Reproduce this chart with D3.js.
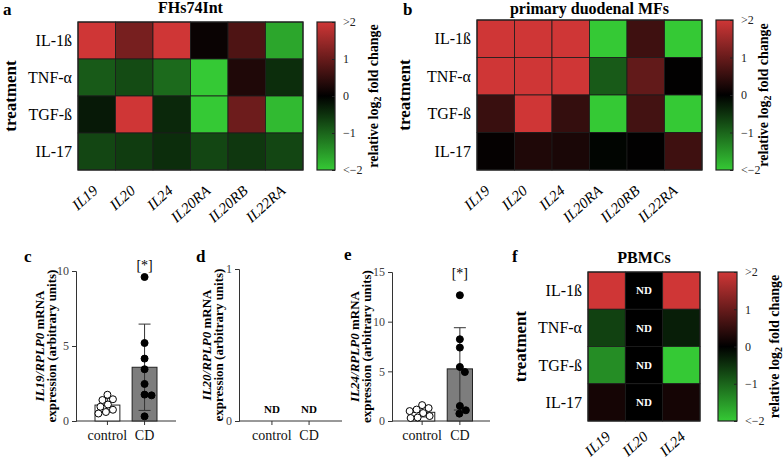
<!DOCTYPE html>
<html>
<head>
<meta charset="utf-8">
<script src="https://cdn.jsdelivr.net/npm/d3@7"></script>
<style>
  body { margin: 0; background: #fff; }
  svg { font-family: "Liberation Serif", "Times New Roman", serif; }
</style>
</head>
<body>
<svg id="fig" width="784" height="461"></svg>
<script>
// ---- data ----
const treatments = ["IL-1ß", "TNF-α", "TGF-ß", "IL-17"];
const genesAB = ["IL19", "IL20", "IL24", "IL20RA", "IL20RB", "IL22RA"];
const genesF = ["IL19", "IL20", "IL24"];

// relative log2 fold change, rows = treatments, cols = genes (null = ND)
const fhsValues = [
  [2, 1.15, 2, 0.1, 0.75, -1.65],
  [-0.9, -0.75, -1.05, -2, 0.3, -0.45],
  [-0.25, 2, -0.4, -2, 1.05, -1.85],
  [-0.7, -0.6, -0.45, -0.7, -0.55, -0.7]
];
const duodenalValues = [
  [2, 2, 2, -2, 0.6, -2],
  [2, 2, 2, -0.9, 0.95, 0.02],
  [0.55, 2, 0.5, -2, 0.65, -2],
  [0.05, 0.3, 0.25, -0.05, 0.02, 0.6]
];
const pbmcValues = [
  [2, null, 2],
  [-0.65, null, -0.3],
  [-1.4, null, -2],
  [0.2, null, 0.2]
];
const cbTicks = [2, 1, 0, -1, -2];
const cbTickLabels = [">2", "1", "0", "−1", "<−2"];

const groups = ["control", "CD"];
const il19Control = [1.75, 1.45, 1.4, 1.1, 0.95, 0.75, 0.6, 0.5];
const il19CD = [9.6, 5.2, 4.16, 3.45, 2.47, 1.76, 1.71, 0.31];
const il24Control = [1.6, 1.3, 1.15, 1.0, 0.8, 0.5, 0.35, 0.3];
const il24CD = [12.66, 8.23, 7.39, 5.44, 4.93, 1.51, 1.08, 0.74];

// ---- drawing ----
const svg = d3.select("#fig");
const red = "#cf3636", green = "#35c935";
const color = d3.scaleLinear().domain([-2, 0, 2]).range([green, "#000", red]).clamp(true);

const defs = svg.append("defs");
const grad = defs.append("linearGradient").attr("id", "cbgrad")
  .attr("x1", 0).attr("y1", 0).attr("x2", 0).attr("y2", 1);
d3.range(0, 1.0001, 0.125).forEach(t => {
  grad.append("stop").attr("offset", t).attr("stop-color", color(2 - 4 * t));
});

function tag(x, y, t) {
  svg.append("text").attr("x", x).attr("y", y)
    .style("font-size", "17px").style("font-weight", "bold").text(t);
}

function heatmap(o) {
  const g = svg.append("g");
  const x = d3.scaleBand().domain(o.cols).range([o.x0, o.x0 + o.w]);
  const y = d3.scaleBand().domain(treatments).range([o.y0, o.y0 + o.h]);
  const cells = treatments.flatMap((r, i) => o.cols.map((c, j) => ({ r, c, v: o.values[i][j] })));

  g.selectAll("rect.cell").data(cells).join("rect")
    .attr("class", "cell")
    .attr("x", d => x(d.c)).attr("y", d => y(d.r))
    .attr("width", x.bandwidth()).attr("height", y.bandwidth())
    .attr("fill", d => d.v == null ? "#000" : color(d.v))
    .attr("stroke", "#1c1c1c").attr("stroke-width", 0.8);

  g.append("rect").attr("x", o.x0).attr("y", o.y0).attr("width", o.w).attr("height", o.h)
    .attr("fill", "none").attr("stroke", "#222").attr("stroke-width", 1.2);

  g.selectAll("text.nd").data(cells.filter(d => d.v == null)).join("text")
    .attr("x", d => x(d.c) + x.bandwidth() / 2).attr("y", d => y(d.r) + y.bandwidth() / 2)
    .attr("dy", "0.35em").attr("text-anchor", "middle")
    .attr("fill", "#fff").style("font-size", "11px").style("font-weight", "bold").text("ND");

  g.selectAll("text.row").data(treatments).join("text")
    .attr("x", o.x0 - 6).attr("y", d => y(d) + y.bandwidth() / 2)
    .attr("dy", "0.35em").attr("text-anchor", "end")
    .style("font-size", "16px").text(d => d);

  g.selectAll("text.col").data(o.cols).join("text")
    .attr("transform", d => `translate(${x(d) + x.bandwidth() / 2 + o.colDx},${o.y0 + o.h + o.colDy}) rotate(-42)`)
    .attr("text-anchor", "end").style("font-size", "15px").style("font-style", "italic")
    .text(d => d);

  g.append("text").attr("x", o.x0 + o.w / 2).attr("y", o.titleY).attr("text-anchor", "middle")
    .style("font-size", "16px").style("font-weight", "bold").text(o.title);

  g.append("text").attr("transform", `translate(${o.treatX},${o.y0 + o.h / 2}) rotate(-90)`)
    .attr("text-anchor", "middle").style("font-size", "17px").style("font-weight", "bold")
    .text("treatment");

  // colour bar
  const cy = d3.scaleLinear().domain([2, -2]).range([o.y0, o.y0 + o.h]);
  g.append("rect").attr("x", o.cbX).attr("y", o.y0).attr("width", o.cbW).attr("height", o.h)
    .attr("fill", "url(#cbgrad)").attr("stroke", "#222").attr("stroke-width", 1.2);
  const ax = g.append("g").attr("transform", `translate(${o.cbX + o.cbW},0)`)
    .call(d3.axisRight(cy).tickValues(cbTicks).tickSize(-3).tickPadding(8)
      .tickFormat((d, i) => cbTickLabels[i]));
  ax.select(".domain").remove();
  ax.selectAll("line").attr("stroke", "#222");
  ax.selectAll("text").style("font-family", "Liberation Serif").style("font-size", "12px").attr("fill", "#222");

  const lab = g.append("text").attr("transform", `translate(${o.cbLabelX},${o.y0 + o.h / 2}) rotate(-90)`)
    .attr("text-anchor", "middle").style("font-size", "14px").style("font-weight", "bold");
  lab.append("tspan").text("relative log");
  lab.append("tspan").attr("dy", 3).style("font-size", "10px").text("2");
  lab.append("tspan").attr("dy", -3).text(" fold change");
}

heatmap({ x0: 78, y0: 22, w: 225, h: 148, cols: genesAB, values: fhsValues, colDx: 2, colDy: 22,
  title: "FHs74Int", titleY: 13, treatX: 16, cbX: 317, cbW: 18, cbLabelX: 378 });
heatmap({ x0: 477, y0: 20, w: 225, h: 150, cols: genesAB, values: duodenalValues, colDx: -5, colDy: 22,
  title: "primary duodenal MFs", titleY: 14, treatX: 410, cbX: 716, cbW: 17, cbLabelX: 768 });
heatmap({ x0: 588, y0: 272, w: 112, h: 149, cols: genesF, values: pbmcValues, colDx: 5, colDy: 17,
  title: "PBMCs", titleY: 263, treatX: 526, cbX: 718, cbW: 19, cbLabelX: 779 });

tag(3, 15, "a");
tag(403, 15, "b");
tag(24, 262, "c");
tag(196, 262, "d");
tag(344, 260, "e");
tag(512, 262, "f");

function swarm(vals, y, r) {
  const placed = [];
  return vals.map(v => {
    const py = y(v);
    let dx = 0;
    for (let k = 0; k < 80; k++) {
      const cand = (k % 2 ? 1 : -1) * Math.ceil(k / 2) * 0.5;
      if (placed.every(p => Math.hypot(p.dx - cand, p.py - py) >= 2 * r)) { dx = cand; break; }
    }
    placed.push({ dx, py });
    return { v, dx, py };
  });
}

function meanSd(a) {
  return { m: d3.mean(a), s: d3.deviation(a) };
}

function barPanel(o) {
  const g = svg.append("g");
  const y = d3.scaleLinear().domain([0, o.max]).range([421, o.top]);
  const x = d3.scaleBand().domain(groups).range(o.band).paddingInner(0.33);

  const yAx = g.append("g").attr("transform", `translate(${o.axisX},0)`)
    .call(d3.axisLeft(y).tickValues(o.ticks).tickSize(4).tickPadding(3).tickFormat(d3.format("d")));
  yAx.selectAll("text").style("font-family", "Liberation Serif").style("font-size", "12px").attr("fill", "#444");
  yAx.selectAll("line,path").attr("stroke", "#333");

  const xAx = g.append("g").attr("transform", "translate(0,421)")
    .call(d3.axisBottom(x).tickSize(4).tickPadding(5));
  xAx.select(".domain").remove();
  xAx.selectAll("text").style("font-family", "Liberation Serif").style("font-size", "14px").attr("fill", "#111");
  xAx.selectAll("line").attr("stroke", "#333");
  g.append("line").attr("x1", o.axisX).attr("x2", o.x1).attr("y1", 421).attr("y2", 421)
    .attr("stroke", "#333");

  if (o.data) {
    const sets = [{ k: "control", vals: o.data[0] }, { k: "CD", vals: o.data[1] }];
    sets.forEach(s => {
      const st = meanSd(s.vals);
      const cx = x(s.k) + x.bandwidth() / 2;
      g.append("rect").attr("x", x(s.k)).attr("y", y(st.m))
        .attr("width", x.bandwidth()).attr("height", y(0) - y(st.m))
        .attr("fill", s.k === "CD" ? "#7d7d7d" : "#fff").attr("stroke", "#222").attr("stroke-width", 1);
      const lo = Math.max(0, st.m - st.s), hi = st.m + st.s;
      g.append("line").attr("x1", cx).attr("x2", cx).attr("y1", y(lo)).attr("y2", y(hi))
        .attr("stroke", "#333").attr("stroke-width", 1);
      [lo, hi].forEach(v => g.append("line").attr("x1", cx - 6).attr("x2", cx + 6)
        .attr("y1", y(v)).attr("y2", y(v)).attr("stroke", "#333").attr("stroke-width", 1));
      g.selectAll(null).data(swarm(s.vals, y, 3.5)).join("circle")
        .attr("cx", d => cx + d.dx).attr("cy", d => d.py).attr("r", 3.5)
        .attr("fill", s.k === "CD" ? "#000" : "#fff").attr("stroke", "#000").attr("stroke-width", 1);
    });
    g.append("text").attr("x", x("CD") + x.bandwidth() / 2).attr("y", o.starY)
      .attr("text-anchor", "middle").style("font-size", "14px").text("[*]");
  } else {
    g.selectAll("text.nd").data(groups).join("text")
      .attr("x", d => x(d) + x.bandwidth() / 2).attr("y", 413).attr("text-anchor", "middle")
      .style("font-size", "11px").style("font-weight", "bold").text("ND");
  }

  const cyMid = (421 + o.top) / 2;
  const l1 = g.append("text").attr("transform", `translate(${o.labelX},${cyMid}) rotate(-90)`)
    .attr("text-anchor", "middle").style("font-size", "13px").style("font-weight", "bold");
  l1.append("tspan").style("font-style", "italic").text(o.gene + "/RPLP0");
  l1.append("tspan").text(" mRNA");
  g.append("text").attr("transform", `translate(${o.labelX + 12},${cyMid}) rotate(-90)`)
    .attr("text-anchor", "middle").style("font-size", "13px").style("font-weight", "bold")
    .text("expression (arbitrary units)");
}

barPanel({ axisX: 76, x1: 176, top: 271, max: 10, ticks: [0, 5, 10], band: [95, 157],
  data: [il19Control, il19CD], gene: "IL19", labelX: 44, starY: 270 });
barPanel({ axisX: 239, x1: 342, top: 269, max: 1, ticks: [0, 1], band: [259.5, 321.5],
  data: null, gene: "IL20", labelX: 211 });
barPanel({ axisX: 392, x1: 490, top: 272, max: 15, ticks: [0, 5, 10, 15], band: [409.5, 472.5],
  data: [il24Control, il24CD], gene: "IL24", labelX: 359, starY: 278 });
</script>
</body>
</html>
